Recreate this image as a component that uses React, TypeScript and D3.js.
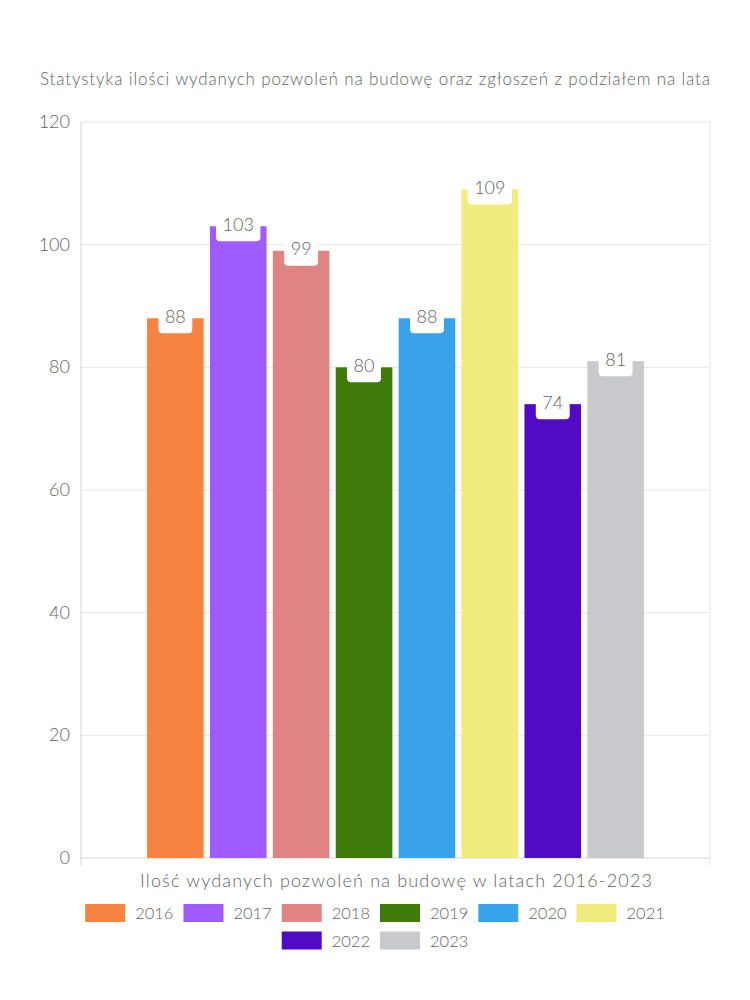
import React from "react";
import * as d3 from "d3";

const title = "Statystyka ilości wydanych pozwoleń na budowę oraz zgłoszeń z podziałem na lata";
const xTitle = "Ilość wydanych pozwoleń na budowę w latach 2016-2023";
const years = ["2016", "2017", "2018", "2019", "2020", "2021", "2022", "2023"];
const values = [88, 103, 99, 80, 88, 109, 74, 81];
const colors = ["#F58442", "#A05BFF", "#E08383", "#3E7B0B", "#38A2EB", "#F0EB7C", "#510BC4", "#C9CACE"];
const yTicks = [0, 20, 40, 60, 80, 100, 120];

const FONT = "Lato, 'Noto Sans', sans-serif";
const TEXT = "#636363";
const WEIGHT = 300;

function measure(text: string, size: number): number {
  const c = document.createElement("canvas");
  const ctx = c.getContext("2d");
  if (!ctx) return text.length * size * 0.55;
  ctx.font = `${WEIGHT} ${size}px Lato`;
  return ctx.measureText(text).width;
}

export default function App() {
  const W = 750, H = 1000;
  const left = 81, right = 710, top = 122, bottom = 858;
  const y = d3.scaleLinear().domain([0, 120]).range([bottom, top]);
  const outer = d3.scaleBand<string>().domain(["all"]).range([left, right]).padding(0);
  const catW = outer.bandwidth();
  const cs = (outer("all") ?? left) + catW * 0.1;
  const x = d3.scaleBand<string>().domain(years).range([cs, cs + catW * 0.8]).paddingInner(0.1).paddingOuter(0.05);

  // legend layout
  const legendFont = 16.5;
  const boxW = 40, boxH = 18;
  const items = years.map((yr, i) => {
    const tw = Math.min(measure(yr, legendFont), 40);
    return { yr, color: colors[i], tw, w: boxW + 10 + tw };
  });
  const gap = 10;
  const maxRow = 600;
  const rows: typeof items[] = [];
  let cur: typeof items = [];
  let curW = 0;
  items.forEach((it) => {
    const add = (cur.length ? gap : 0) + it.w;
    if (curW + add > maxRow && cur.length) {
      rows.push(cur);
      cur = [it];
      curW = it.w;
    } else {
      cur.push(it);
      curW += add;
    }
  });
  if (cur.length) rows.push(cur);
  const rowCenters = [913, 940.5];

  return (
    <svg width={W} height={H} style={{ position: "absolute", left: 0, top: 0, background: "#fff" }} fontFamily={FONT} fontWeight={WEIGHT}>
      <text x={375} y={85} textAnchor="middle" fontSize={17} fill={TEXT} textLength={670} lengthAdjust="spacing">
        {title}
      </text>
      {/* grid */}
      {yTicks.map((t) => (
        <line key={t} x1={left} x2={right} y1={y(t)} y2={y(t)} stroke={t === 0 ? "#d4d4d4" : "#e6e6e6"} strokeWidth={1} />
      ))}
      <line x1={left} x2={left} y1={top} y2={bottom + 8} stroke="#d4d4d4" />
      <line x1={right} x2={right} y1={top} y2={bottom + 8} stroke="#e6e6e6" />
      {yTicks.map((t) => (
        <text key={t} x={70} y={y(t) + 6} textAnchor="end" fontSize={18} fill={TEXT}>
          {t}
        </text>
      ))}
      {/* bars */}
      {years.map((yr, i) => (
        <rect key={yr} x={x(yr)} y={y(values[i])} width={x.bandwidth()} height={bottom - y(values[i])} fill={colors[i]} />
      ))}
      {/* labels */}
      {years.map((yr, i) => {
        const cx = (x(yr) ?? 0) + x.bandwidth() / 2;
        const ty = y(values[i]);
        const label = String(values[i]);
        const tw = measure(label, 18);
        const bw = tw + 13;
        return (
          <g key={"l" + yr}>
            <rect x={cx - bw / 2} y={ty - 20} width={bw} height={35} rx={4} fill="#fff" />
            <text x={cx} y={ty + 4.5} textAnchor="middle" fontSize={18} fill={TEXT}>
              {label}
            </text>
          </g>
        );
      })}
      <text x={396} y={887} textAnchor="middle" fontSize={18} fill={TEXT} textLength={512} lengthAdjust="spacing">
        {xTitle}
      </text>
      {/* legend */}
      {rows.map((row, ri) => {
        const total = row.reduce((s, it) => s + it.w, 0) + gap * (row.length - 1);
        let px = 375 - total / 2;
        const cy = rowCenters[ri] ?? 913 + ri * 27.5;
        return (
          <g key={ri}>
            {row.map((it) => {
              const gx = px;
              px += it.w + gap;
              return (
                <g key={it.yr}>
                  <rect x={gx} y={cy - boxH / 2} width={boxW} height={boxH} fill={it.color} />
                  <text x={gx + boxW + 10} y={cy + 6} fontSize={legendFont} fill={TEXT}>
                    {it.yr}
                  </text>
                </g>
              );
            })}
          </g>
        );
      })}
    </svg>
  );
}
